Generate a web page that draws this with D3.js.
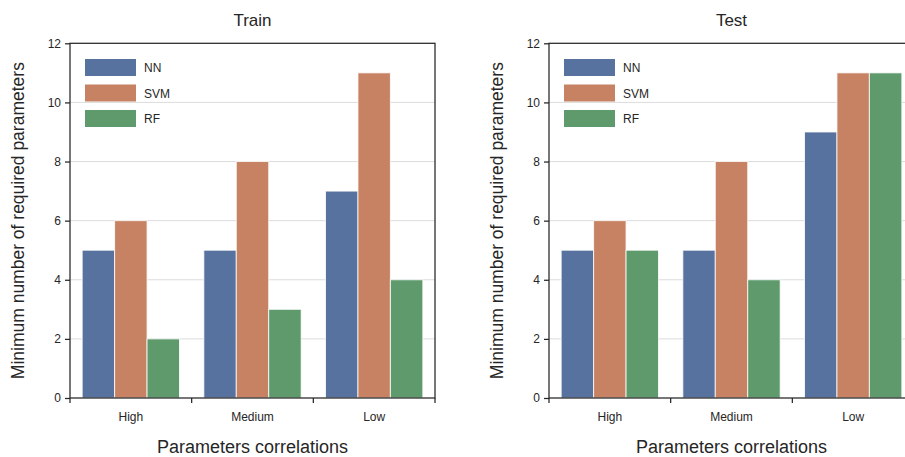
<!DOCTYPE html>
<html>
<head>
<meta charset="utf-8">
<script src="https://cdn.jsdelivr.net/npm/d3@7"></script>
<style>
  body { margin: 0; background: #fff; }
  svg { font-family: "Liberation Sans", Arial, sans-serif; }
</style>
</head>
<body>
<script>
// chart data
const categories = ["High", "Medium", "Low"];
const models = ["NN", "SVM", "RF"];
const trainNN  = [5, 5, 7];
const trainSVM = [6, 8, 11];
const trainRF  = [2, 3, 4];
const testNN   = [5, 5, 9];
const testSVM  = [6, 8, 11];
const testRF   = [5, 4, 11];
const yTicks = [0, 2, 4, 6, 8, 10, 12];

const colors = ["#5872a0", "#c68263", "#5f9a6c"];

const width = 905, height = 457;
const svg = d3.select("body").append("svg")
  .attr("width", width)
  .attr("height", height);

// one panel per data set
function drawPanel(left, title, series) {
  const w = 365, top = 43.3, bottom = 398;
  const g = svg.append("g").attr("transform", "translate(" + left + ",0)");

  const x = d3.scaleBand().domain(categories).range([0, w]);
  const xInner = d3.scaleBand().domain(models)
    .range([x.bandwidth() * 0.1, x.bandwidth() * 0.9]);
  const y = d3.scaleLinear().domain([0, 12]).range([bottom, top]);

  // grid lines
  g.selectAll(".grid")
    .data(yTicks.slice(1, -1))
    .enter().append("line")
    .attr("x1", 0).attr("x2", w)
    .attr("y1", d => y(d)).attr("y2", d => y(d))
    .attr("stroke", "#dcdcdc").attr("stroke-width", 1);

  // bars
  const rows = [];
  categories.forEach((c, i) => {
    models.forEach((m, j) => rows.push({ cat: c, model: m, value: series[j][i], k: j }));
  });
  g.selectAll(".bar")
    .data(rows)
    .enter().append("rect")
    .attr("x", d => x(d.cat) + xInner(d.model))
    .attr("width", xInner.bandwidth())
    .attr("y", d => y(d.value))
    .attr("height", d => y(0) - y(d.value))
    .attr("fill", d => colors[d.k])
    .attr("stroke", "#fff")
    .attr("stroke-opacity", 0.8)
    .attr("stroke-width", 1);

  // box
  g.append("rect")
    .attr("x", 0).attr("y", top)
    .attr("width", w).attr("height", bottom - top)
    .attr("fill", "none").attr("stroke", "#262626").attr("stroke-width", 1.25);

  // y axis
  const yAxis = g.append("g")
    .call(d3.axisLeft(y).tickValues(yTicks).tickSize(5).tickPadding(4));
  yAxis.select(".domain").remove();
  yAxis.selectAll("line").attr("stroke", "#262626").attr("stroke-width", 1.25);
  yAxis.selectAll("text").attr("font-size", 12).attr("fill", "#262626");

  // x axis: labels at centres, ticks on band edges
  const xAxis = g.append("g").attr("transform", "translate(0," + bottom + ")")
    .call(d3.axisBottom(x).tickSize(0).tickPadding(14));
  xAxis.select(".domain").remove();
  xAxis.selectAll("text").attr("font-size", 12).attr("fill", "#262626");
  const edges = categories.map(c => x(c)).concat([w]);
  g.selectAll(".xtick")
    .data(edges)
    .enter().append("line")
    .attr("x1", d => d).attr("x2", d => d)
    .attr("y1", bottom).attr("y2", bottom + 5)
    .attr("stroke", "#262626").attr("stroke-width", 1.25);

  // titles
  g.append("text")
    .attr("x", w / 2).attr("y", 26)
    .attr("text-anchor", "middle")
    .attr("font-size", 17).attr("fill", "#262626")
    .text(title);
  g.append("text")
    .attr("x", w / 2).attr("y", 453)
    .attr("text-anchor", "middle")
    .attr("font-size", 18).attr("fill", "#262626")
    .text("Parameters correlations");
  g.append("text")
    .attr("transform", "translate(-46," + ((top + bottom) / 2) + ") rotate(-90)")
    .attr("text-anchor", "middle")
    .attr("font-size", 17.5).attr("fill", "#262626")
    .text("Minimum number of required parameters");

  // legend
  const leg = g.selectAll(".leg")
    .data(models)
    .enter().append("g")
    .attr("transform", (d, i) => "translate(15," + (59 + i * 25.5) + ")");
  leg.append("rect")
    .attr("width", 51).attr("height", 17)
    .attr("fill", (d, i) => colors[i]);
  leg.append("text")
    .attr("x", 59).attr("y", 13)
    .attr("font-size", 12).attr("fill", "#262626")
    .text(d => d);
}

drawPanel(70, "Train", [trainNN, trainSVM, trainRF]);
drawPanel(549, "Test", [testNN, testSVM, testRF]);
</script>
</body>
</html>
